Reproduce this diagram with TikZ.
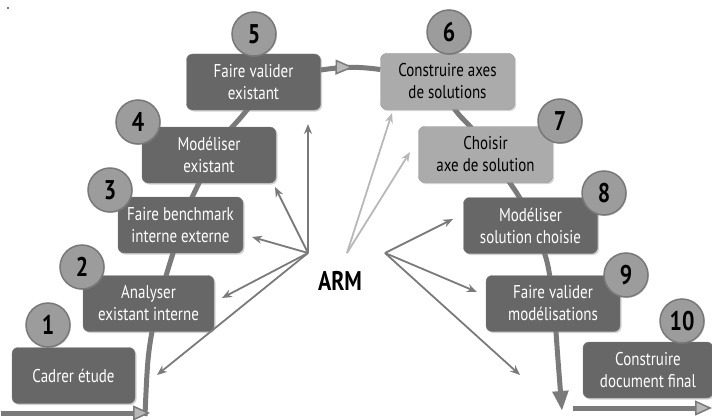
\documentclass[tikz,border=0pt]{standalone}
\usepackage{fontspec}
\setmainfont{PT Sans}[FakeStretch=0.81]
\usetikzlibrary{arrows.meta,shadows,decorations.markings}
\definecolor{darkbox}{HTML}{676767}
\definecolor{lightbox}{HTML}{ABABAB}
\definecolor{numfill}{HTML}{9C9C9C}
\definecolor{numring}{HTML}{787878}
\definecolor{linegray}{HTML}{7A7A7A}
\definecolor{palegray}{HTML}{B8B8B8}

\begin{document}
\begin{tikzpicture}[x=1pt,y=-1pt,
    stage/.style={draw=darkbox!85!white, fill=darkbox, text=white, rounded corners=6pt, minimum width=134pt, minimum height=56pt, align=center, font=\fontsize{18.5}{22}\selectfont, drop shadow={shadow xshift=1.5pt, shadow yshift=-1.5pt, opacity=0.35}},
    stagelight/.style={stage, fill=lightbox, draw=lightbox!85!black, text=black},
    num/.style={circle, draw=numring, line width=1.5pt, fill=numfill, minimum size=44pt, inner sep=0pt, font=\fontsize{27}{27}\selectfont\bfseries, drop shadow={shadow xshift=1pt, shadow yshift=-1pt, opacity=0.3}},
    snake/.style={linegray, line width=5pt},
    link/.style={linegray, line width=1.8pt, -{Stealth[length=10pt,width=8pt]}},
    linklight/.style={link, palegray}
]
\useasboundingbox (0,0) rectangle (712,420);
\fill[linegray] (7,7) rectangle (9,9);

% path behind the stages
\draw[snake] plot[smooth, tension=0.6] coordinates {(145,416) (148,360) (154,322) (164,283) (174,250) (186,212) (198,185) (218,145) (242,116) (262,92)};
\draw[snake, -{Triangle[length=20pt,width=15pt]}] plot[smooth, tension=0.6] coordinates {(440,85) (456,111) (473,130) (492,158) (510,183) (522,202) (535,230) (546,258) (551,285) (555,320) (558,360) (562,411)};

% stages
\node[stage, minimum width=123pt] (b1) at (73.5,375.5) {Cadrer étude};
\node[stage, minimum width=131pt] (b2) at (148.5,303.5) {Analyser\\existant interne};
\node[stage, minimum width=125pt] (b3) at (180.5,225) {Faire benchmark\\interne externe};
\node[stage] (b4) at (209,155) {Modéliser\\existant};
\node[stage] (b5) at (253.5,82) {Faire valider\\existant};
\node[stagelight] (b6) at (447.5,81.5) {Construire axes\\de solutions};
\node[stagelight] (b7) at (485.5,154.5) {Choisir\\axe de solution};
\node[stage] (b8) at (530.5,225.5) {Modéliser\\solution choisie};
\node[stage] (b9) at (553,303.5) {Faire valider\\modélisations};
\node[stage, minimum width=130pt] (b10) at (648,370) {Construire\\document final};

% numbers
\node[num] (c1) at (48,325) {1};
\node[num] (c2) at (82,267) {2};
\node[num] (c3) at (110,190) {3};
\node[num] (c4) at (138,122) {4};
\node[num] (c5) at (254,34) {5};
\node[num] (c6) at (449,32) {6};
\node[num] (c7) at (560,121) {7};
\node[num] (c8) at (604,193) {8};
\node[num] (c9) at (626,275) {9};
\node[num] (c10) at (682,321) {10};

% from 5 to 6
\draw[snake, postaction={decorate}, decoration={markings, mark=at position 0.55 with {\arrow{Triangle[open, length=18pt, width=15pt, line width=1.5pt, fill=palegray]}}}]
    ([yshift=12pt]b5.east) to[bend left=8] ([yshift=12pt]b6.west);

% in and out
\coordinate (leftin) at (1,413);
\coordinate (leftend) at (150,413);
\coordinate (rightin) at (573,408);
\coordinate (rightend) at (712,408);
\draw[snake, -{Triangle[open, length=17pt, width=15pt, line width=1.5pt, fill=palegray]}] (leftin) -- (leftend);
\draw[snake, -{Triangle[open, length=17pt, width=15pt, line width=1.5pt, fill=palegray]}] (rightin) -- (rightend);

% ARM
\node[font=\fontsize{27}{27}\selectfont\bfseries] (arm) at (340,281) {ARM};
\coordinate (armL) at (308,253);
\coordinate (armR) at (385,253);
\coordinate (armC) at (347,253);
\coordinate (toa) at (157,375);
\coordinate (tob) at (222,298);
\coordinate (toc) at (252,237);
\coordinate (tod) at (275,187);
\coordinate (toe) at (308,124);
\coordinate (tof) at (392,113);
\coordinate (tog) at (410,152);
\coordinate (toh) at (453,219);
\coordinate (toi) at (477,292);
\coordinate (toj) at (520,375);
\foreach \t in {toa,tob,toc,tod,toe} \draw[link] (armL) -- (\t);
\foreach \t in {tof,tog} \draw[linklight] (armC) -- (\t);
\foreach \t in {toh,toi,toj} \draw[link] (armR) -- (\t);
\end{tikzpicture}
\end{document}
